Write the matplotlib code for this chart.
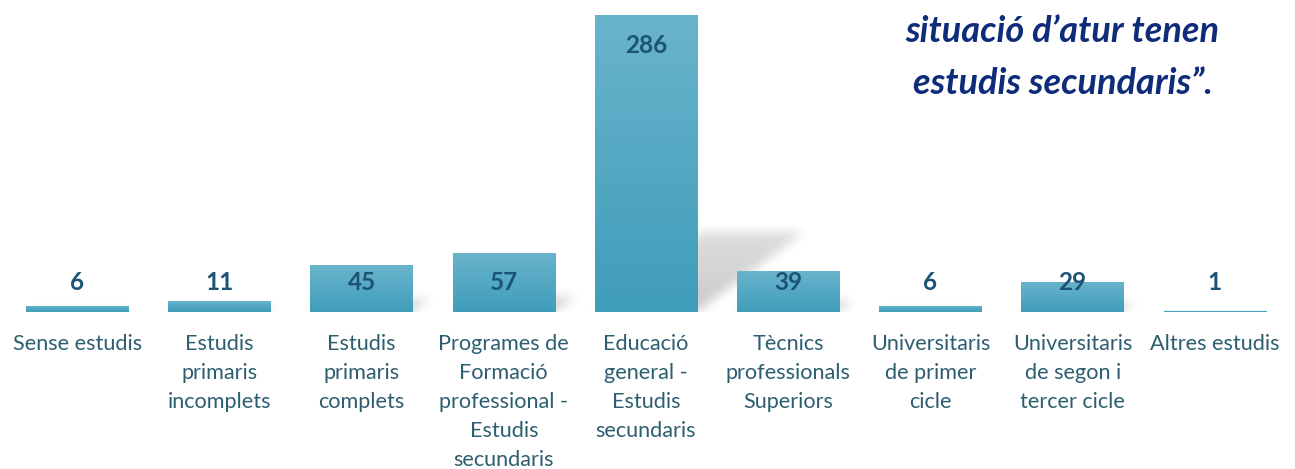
import numpy as np
import matplotlib
matplotlib.use("Agg")
import matplotlib.pyplot as plt
from matplotlib.path import Path
from matplotlib.colors import LinearSegmentedColormap

categories = [
    "Sense estudis",
    "Estudis\nprimaris\nincomplets",
    "Estudis\nprimaris\ncomplets",
    "Programes de\nFormació\nprofessional -\nEstudis\nsecundaris",
    "Educació\ngeneral -\nEstudis\nsecundaris",
    "Tècnics\nprofessionals\nSuperiors",
    "Universitaris\nde primer\ncicle",
    "Universitaris\nde segon i\ntercer cicle",
    "Altres estudis",
]
values = [6, 11, 45, 57, 286, 39, 6, 29, 1]
title_lines = ["situació d\u2019atur tenen", "estudis secundaris\u201d."]

plt.rcParams['font.family'] = ['Lato', 'DejaVu Sans']

fig = plt.figure(figsize=(12.95, 4.69), dpi=100)
ax = fig.add_axes([6/1295, 157/469, 1280/1295, 312/469])
x = np.arange(len(values))
xmin, xmax = -0.5, len(values) - 0.5
ymax = 300.4
width = 0.72

# ---- blurred perspective shadows (derived from bar geometry) ----
nx, ny = 1280, 312
xs = np.linspace(xmin, xmax, nx)
ys = np.linspace(0, ymax, ny)
XX, YY = np.meshgrid(xs, ys)
pts = np.column_stack([XX.ravel(), YY.ravel()])
mask = np.zeros(XX.shape)
for xi, v in zip(x, values):
    xl, xr = xi - width / 2, xi + width / 2
    hs = 0.27 * v
    dx = 0.00266 * v
    path = Path([(xl, 0), (xr, 0), (xr + dx, hs), (xl + dx, hs), (xl, 0)])
    inside = path.contains_points(pts).reshape(XX.shape)
    fade = np.clip(1 - 0.35 * YY / max(hs, 1e-6), 0, 1)
    mask = np.maximum(mask, inside * fade)
    if v >= 5:
        glow = (XX >= xl) & (XX <= xr + 0.02) & (YY <= 1.0)
        mask = np.maximum(mask, glow * 0.35)

def blur(a, sigma):
    r = int(3 * sigma)
    k = np.exp(-0.5 * (np.arange(-r, r + 1) / sigma) ** 2)
    k /= k.sum()
    a = np.apply_along_axis(lambda m: np.convolve(m, k, mode="same"), 1, a)
    a = np.apply_along_axis(lambda m: np.convolve(m, k, mode="same"), 0, a)
    return a

mask = blur(mask, 5.0)
rgba = np.zeros((ny, nx, 4))
rgba[..., 3] = 0.21 * mask
ax.imshow(rgba, extent=(xmin, xmax, 0, ymax), origin="lower",
          aspect="auto", zorder=1, interpolation="bilinear")

# ---- gradient bars ----
cmap = LinearSegmentedColormap.from_list("g", ["#3f9dba", "#6ab4cc"])
grad = np.linspace(0, 1, 256).reshape(-1, 1)
bars = ax.bar(x, values, width=width, color="#4aa2bf", edgecolor="none", zorder=3)
for b, v in zip(bars, values):
    x0 = b.get_x()
    if v >= 5:
        im = ax.imshow(grad, extent=(x0, x0 + b.get_width(), 0, v), origin="lower",
                       cmap=cmap, aspect="auto", zorder=4, interpolation="bilinear")
        im.set_clip_path(b)
    else:
        b.set_edgecolor("#4aa2bf")
        b.set_linewidth(0.9)

ax.set_xlim(xmin, xmax)
ax.set_ylim(0, ymax)

for xi, v in zip(x, values):
    ly = max(v - 29, 28)
    ax.text(xi, ly, str(v), ha="center", va="center", fontsize=17.5,
            fontweight="bold", color="#1b5475", zorder=6)

ax.set_xticks(x)
ax.set_xticklabels(categories, fontsize=15.6, color="#2d5e70", linespacing=1.56)
ax.tick_params(axis="x", length=0, pad=16)
ax.set_yticks([])
for s in ax.spines.values():
    s.set_visible(False)

fig.text(1062/1295, 1 - 32/469, title_lines[0], ha="center", va="center",
         fontsize=26, fontweight="bold", style="italic", color="#0f2c7a")
fig.text(1063/1295, 1 - 84/469, title_lines[1], ha="center", va="center",
         fontsize=26, fontweight="bold", style="italic", color="#0f2c7a")

fig.savefig("out.png", dpi=100)
